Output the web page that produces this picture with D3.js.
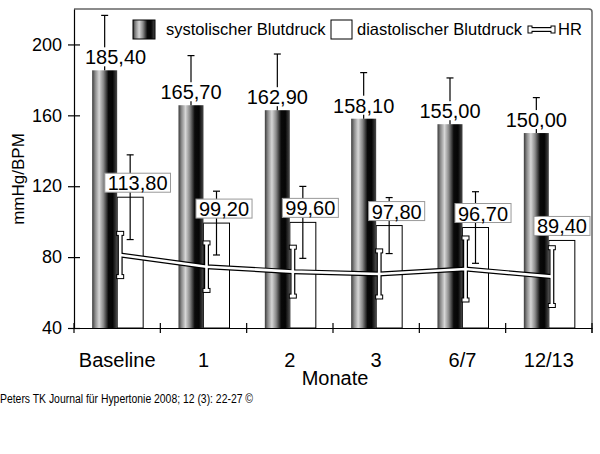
<!DOCTYPE html>
<html><head><meta charset="utf-8">
<script src="https://cdn.jsdelivr.net/npm/d3@7/dist/d3.min.js"></script>
<style>
body{margin:0;background:#fff;}
svg{display:block;font-family:"Liberation Sans",Arial,Helvetica,sans-serif;}
</style></head>
<body>
<svg id="chart" width="600" height="454"></svg>
<script>
const categories = ["Baseline","1","2","3","6/7","12/13"];
const systolic = [185.4,165.7,162.9,158.1,155.0,150.0];
const systolicSD = [31.0,28.0,31.7,26.0,26.1,20.0];
const diastolic = [113.8,99.2,99.6,97.8,96.7,89.4];
const diastolicSD = [23.9,18.0,20.3,15.8,20.2,null];
const hr = [81.2,74.6,71.8,70.5,73.3,69.0];
const hrSD = [12.2,13.4,13.8,13.0,17.5,16.3];
const yTicks = [40,80,120,160,200];
const labelFmt = v => v.toFixed(2).replace(".", ",");

const svg = d3.select("#chart");
const L = 74, R = 592, T = 9, B = 328;
const x = d3.scaleBand().domain(categories).range([L, R]);
const y = d3.scaleLinear().domain([40, 220]).range([B, T]);
const bw = x.bandwidth();
const cx = c => x(c) + bw / 2;
const SW = 25, DW = 26;

// gradient
const defs = svg.append("defs");
const g = defs.append("linearGradient").attr("id","cyl").attr("x1","0").attr("x2","1").attr("y1","0").attr("y2","0");
[[0,"#3a3a3a"],[0.12,"#8a8a8a"],[0.28,"#d6d6d6"],[0.45,"#8a8a8a"],[0.65,"#0a0a0a"],[0.82,"#050505"],[1,"#4a4a4a"]]
  .forEach(([o,c]) => g.append("stop").attr("offset", o).attr("stop-color", c));

// frame
svg.append("path").attr("d", `M${L},${T}H${R-3}Q${R},${T} ${R},${T+3}V${B+5}`)
  .attr("fill","none").attr("stroke","#666").attr("stroke-width",1.5);

// diastolic bars
svg.append("g").selectAll("rect").data(categories).join("rect")
  .attr("x", c => cx(c)).attr("width", DW)
  .attr("y", (c,i) => y(diastolic[i])).attr("height", (c,i) => B - y(diastolic[i]))
  .attr("fill","#fff").attr("stroke","#000").attr("stroke-width",1);

// systolic bars
svg.append("g").selectAll("rect").data(categories).join("rect")
  .attr("x", c => cx(c) - SW).attr("width", SW)
  .attr("y", (c,i) => y(systolic[i])).attr("height", (c,i) => B - y(systolic[i]))
  .attr("fill","url(#cyl)");

// systolic error bars (upward)
const se = svg.append("g").attr("stroke","#000").attr("stroke-width",1.2);
categories.forEach((c,i) => {
  const xx = cx(c) - SW/2, top = y(systolic[i] + systolicSD[i]);
  se.append("line").attr("x1",xx).attr("x2",xx).attr("y1",y(systolic[i])).attr("y2",top);
  se.append("line").attr("x1",xx-3.5).attr("x2",xx+3.5).attr("y1",top).attr("y2",top);
});
// diastolic error bars
const de = svg.append("g").attr("stroke","#000").attr("stroke-width",1.2);
categories.forEach((c,i) => {
  if (diastolicSD[i] == null) return;
  const xx = cx(c) + DW/2, top = y(diastolic[i] + diastolicSD[i]), bot = y(diastolic[i] - diastolicSD[i]);
  de.append("line").attr("x1",xx).attr("x2",xx).attr("y1",bot).attr("y2",top);
  [top, bot].forEach(yy => de.append("line").attr("x1",xx-3.5).attr("x2",xx+3.5).attr("y1",yy).attr("y2",yy));
});

// systolic labels
categories.forEach((c,i) => {
  const gL = svg.append("g");
  const t = gL.append("text").attr("font-size",20).attr("text-anchor","middle")
    .attr("y", y(systolic[i]) - 6).text(labelFmt(systolic[i]));
  const w = t.node().getComputedTextLength();
  const xc = Math.max(cx(c) - SW/2, L + 11 + w/2);
  t.attr("x", xc);
  gL.insert("rect","text").attr("x", xc - w/2 - 1).attr("width", w + 2)
    .attr("y", y(systolic[i]) - 23).attr("height", 19).attr("fill","#fff");
});
// diastolic labels
categories.forEach((c,i) => {
  const gL = svg.append("g");
  const t = gL.append("text").attr("font-size",20).attr("text-anchor","middle")
    .attr("y", y(diastolic[i]) - 7).text(labelFmt(diastolic[i]));
  const w = t.node().getComputedTextLength();
  const xc = Math.min(cx(c) + DW/2 + 7.5, R - 2 - w/2 - 3);
  t.attr("x", xc);
  gL.insert("rect","text").attr("x", xc - w/2 - 3).attr("width", w + 6)
    .attr("y", y(diastolic[i]) - 24).attr("height", 19)
    .attr("fill","#fff").attr("stroke","#999").attr("stroke-width",1);
});

// HR line with hollow error bars
const hx = c => cx(c) + 3;
const hrLine = d3.line().x(d => hx(d.c)).y(d => y(d.v));
const hrData = categories.map((c,i) => ({c, v: hr[i], sd: hrSD[i]}));
const hg = svg.append("g");
function hrLayer(color, w, capW, capH) {
  hg.append("path").datum(hrData).attr("d", hrLine).attr("fill","none")
    .attr("stroke", color).attr("stroke-width", w).attr("stroke-linejoin","miter");
  hrData.forEach(d => {
    const xx = hx(d.c), t = y(d.v + d.sd), b = y(d.v - d.sd);
    hg.append("line").attr("x1",xx).attr("x2",xx).attr("y1",t).attr("y2",b)
      .attr("stroke",color).attr("stroke-width",w);
    [t, b].forEach(yy => hg.append("rect").attr("x", xx - capW/2).attr("y", yy - capH/2)
      .attr("width", capW).attr("height", capH).attr("fill", color));
  });
}
hrLayer("#000", 5, 8, 5);
hrLayer("#fff", 2.6, 6, 3);

// axes
const ya = svg.append("g").attr("transform",`translate(${L},0)`)
  .call(d3.axisLeft(y).tickValues(yTicks).tickSize(6).tickSizeOuter(0).tickPadding(6));
ya.selectAll(".tick line").attr("x1", 6).attr("stroke-width",1.2);
ya.select(".domain").attr("stroke-width",1.2);
ya.selectAll(".tick text").attr("font-size",18).attr("font-family","Liberation Sans, Arial, sans-serif").attr("fill","#000");

const xa = svg.append("g").attr("transform",`translate(0,${B})`)
  .call(d3.axisBottom(x).tickSize(0).tickSizeOuter(0).tickPadding(25));
xa.select(".domain").attr("stroke-width",1.2);
xa.selectAll(".tick text").attr("font-size",20).attr("font-family","Liberation Sans, Arial, sans-serif").attr("fill","#000");
const bounds = categories.map(c => x(c)).concat([R]);
xa.selectAll(".bt").data(bounds).join("line").attr("class","bt")
  .attr("x1", d => d).attr("x2", d => d).attr("y1",-5).attr("y2",5)
  .attr("stroke","#000").attr("stroke-width",1.2);

svg.append("text").attr("x",(L+R)/2+2).attr("y",385).attr("text-anchor","middle")
  .attr("font-size",20).text("Monate");
svg.append("text").attr("transform","translate(24,179) rotate(-90)").attr("text-anchor","middle")
  .attr("font-size",17).text("mmHg/BPM");

// legend
const lg = svg.append("g");
lg.append("rect").attr("x",133).attr("y",20).attr("width",22).attr("height",19)
  .attr("fill","url(#cyl)").attr("stroke","#000").attr("stroke-width",1);
lg.append("text").attr("x",166).attr("y",35).attr("font-size",16.5).text("systolischer Blutdruck");
lg.append("rect").attr("x",331).attr("y",20).attr("width",21).attr("height",19)
  .attr("fill","#fff").attr("stroke","#000").attr("stroke-width",1);
lg.append("text").attr("x",357).attr("y",35).attr("font-size",16.5).text("diastolischer Blutdruck");
// HR legend symbol
[["#000",5,5,8],["#fff",2.6,3,6]].forEach(([col,w,cw,ch]) => {
  lg.append("line").attr("x1",530).attr("x2",553).attr("y1",29.5).attr("y2",29.5)
    .attr("stroke",col).attr("stroke-width",w);
  [530,553].forEach(xx => lg.append("rect").attr("x",xx-cw/2).attr("y",29.5-ch/2)
    .attr("width",cw).attr("height",ch).attr("fill",col));
});
lg.append("text").attr("x",558).attr("y",35).attr("font-size",16.5).text("HR");

svg.append("text").attr("x",0).attr("y",403).attr("font-size",12)
  .attr("textLength",253).attr("lengthAdjust","spacingAndGlyphs")
  .text("Peters TK Journal für Hypertonie 2008; 12 (3): 22-27 ©");
</script>
</body></html>
